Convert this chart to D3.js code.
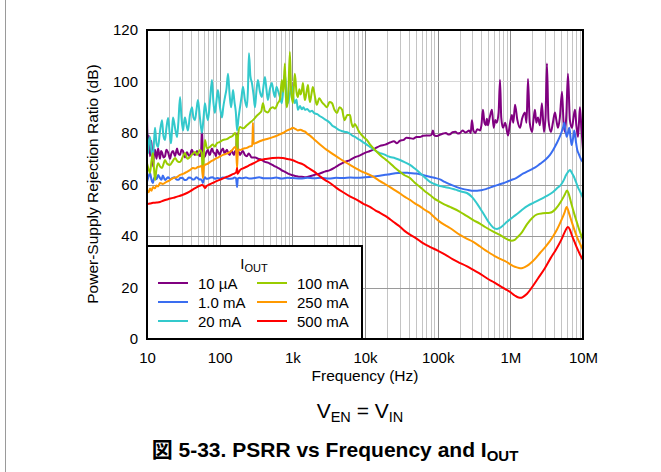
<!DOCTYPE html>
<html>
<head>
<meta charset="utf-8">
<script src="https://cdn.jsdelivr.net/npm/d3@7"></script>
<style>
  html, body { margin: 0; padding: 0; background: #fff; }
  svg { display: block; font-family: "Liberation Sans", Arial, "Noto Sans CJK JP", sans-serif; }
</style>
</head>
<body>
<svg id="chart" width="661" height="472"></svg>
<script>
// Axis ticks
const freqTicks = [10, 100, 1e3, 1e4, 1e5, 1e6, 1e7];
const freqTickLabels = ["10", "100", "1k", "10k", "100k", "1M", "10M"];
const dbTicks = [0, 20, 40, 60, 80, 100, 120];

// Legend entries (in drawing order)
const seriesNames = ["10 \u00b5A", "1.0 mA", "20 mA", "100 mA", "250 mA", "500 mA"];
const seriesColors = ["#800080", "#3a6df0", "#33c9cc", "#99cc00", "#ff9900", "#ff0000"];

// PSRR (dB) vs frequency (Hz) for each output current
const psrr10uA = [
[10,86],[10.3,74],[10.6,79],[11,71],[11.5,77],[12.1,67],[12.5,72],[12.9,73.5],[13.5,70],[14.2,74],[14.7,71.5],[15.1,70],[15.6,73],[16.1,72.5],[16.9,70.5],[17.7,71],[18.5,73.5],[19.5,72.5],[20.7,70],[21.6,72],[22.8,73],[24.3,71],[25.1,72.5],[25.9,74],[27,72],[28.5,71.5],[29.8,73.5],[31.3,73],[33.3,70.5],[34.5,72],[35.5,72.5],[37,71.5],[39,71],[40.5,73],[41.6,73.5],[43.5,72],[45.7,71.5],[48.7,73],[51,72],[53.5,71],[55.5,72.5],[57,82],[58.8,72],[60.5,70.5],[62.7,71],[65.5,72.5],[68.9,73.5],[71,72],[73.4,71.5],[76,73],[78.3,74],[82,72.5],[86,72],[89,71],[91.7,73.5],[96,72.5],[100,71.5],[105,73],[111,74],[115,72.5],[118,72],[122,73],[126,73.5],[132,72],[138,71.5],[143,73],[148,73],[153,72],[158,71.5],[163,73],[168,72.5],[173.6,80],[178,73],[184,72.5],[190,71.5],[200,72.5],[209,73],[222,71.5],[237,71],[250,72],[261,71.5],[275,70.5],[287,70.5],[310,70.5],[336,70],[360,69.8],[381,69.5],[420,68.8],[461,68.5],[500,68],[540,67.5],[580,67],[631,66.5],[680,66],[717,65.5],[780,65],[841,64.5],[910,64],[985,63.7],[1070,63.4],[1155,63.2],[1250,63],[1350,63],[1500,62.8],[1643,63],[1800,63.3],[2000,63.7],[2400,64.3],[2800,65],[3298,65.6],[3900,66.7],[4528,67.8],[5300,68.8],[6214,69.5],[7200,70.5],[8531,71.3],[10000,72.3],[11700,73],[13800,74],[16100,75],[19000,75.5],[22100,76.3],[25000,76.8],[27500,76],[30300,77],[34000,77.3],[37000,78.2],[41600,78],[46000,77.8],[51000,78.4],[57100,78.4],[63000,78.9],[70000,79],[78400,79],[83000,79.5],[86000,81],[89000,79.2],[95000,78.8],[107600,79.3],[120000,79.8],[130000,80],[140000,79.4],[147700,79.5],[160000,80.3],[175000,80.5],[190000,79.8],[203000,80],[220000,81],[240000,80.2],[253000,80.4],[270000,81],[285000,80],[296000,85],[310000,81],[330000,80],[350000,81.5],[382000,81],[400000,83],[420000,89],[440000,84],[460000,83],[475000,85.5],[492000,83],[520000,86],[559000,89],[590000,82],[620000,85],[650000,84],[690000,88],[721000,100.6],[750000,86],[793000,82],[850000,84],[929000,79],[980000,83],[1050000,87],[1100000,84],[1160000,91],[1250000,85],[1360000,82],[1450000,85.5],[1590000,88],[1670000,84],[1750000,101],[1850000,84],[1990000,80.4],[2080000,85],[2180000,89],[2280000,84],[2400000,86],[2550000,83],[2720000,91.6],[2900000,80.4],[3050000,86],[3190000,107],[3350000,85],[3620000,80.4],[3850000,84],[4110000,88],[4300000,85],[4530000,82],[4800000,86],[5140000,96],[5400000,84],[5650000,80.4],[5900000,87],[6210000,103],[6600000,85],[7050000,82],[7400000,86],[7760000,89],[8100000,83],[8530000,78.5],[8800000,84],[9080000,90],[9500000,82],[10000000,73.4]
];

const psrr1mA = [
[10,61],[10.5,63],[11,64.5],[11.5,62],[12.1,60.6],[12.5,62.5],[13,63],[13.6,62],[14.2,63.7],[15.1,62.5],[15.8,61.8],[16.5,63.5],[17.7,61.7],[18.5,62.2],[19.5,62.8],[21,62],[22.5,62.6],[24,62.8],[25.5,61.9],[27,61.8],[29,62.6],[31,62.5],[33,61.7],[35,61.8],[37.5,62.7],[40,62.6],[42.5,61.9],[45,62],[47.5,62.8],[50,62.5],[53,61.9],[55,62],[57,61.5],[58.8,60.6],[60.5,62],[62.7,62.8],[66,62.2],[70,62.3],[75,62.7],[80,62.8],[86,62.2],[92,62.5],[100,62.3],[110,62.7],[120,62.6],[135,62.2],[150,62.3],[160,62.7],[168,62.5],[173.6,59],[178,62.4],[190,62.6],[200,62.4],[230,62.7],[260,62.3],[300,62.5],[350,62.8],[400,62.4],[500,62.4],[600,62.7],[700,62.3],[850,62.6],[1000,62.5],[1300,62.3],[1600,62.6],[2000,62.4],[2500,62.6],[3200,62.3],[4000,62.6],[5000,62.5],[6300,62.7],[8000,62.6],[10000,62.8],[13000,63.1],[16000,63.4],[19000,63.8],[22000,64],[26000,64.4],[30000,64.5],[35000,64.6],[40000,64.5],[48000,64.3],[57000,64],[66000,63.5],[78000,63],[90000,62.6],[107600,62],[125000,61],[150000,60],[183000,59],[220000,58.3],[260000,57.9],[309000,57.6],[350000,57.6],[400000,57.8],[460000,58.2],[525000,58.8],[600000,59.4],[700000,60],[800000,60.5],[891000,61],[1000000,61.6],[1200000,62.5],[1510000,64.3],[1750000,65.2],[2000000,66],[2300000,67],[2560000,68],[3000000,69.5],[3510000,71.5],[3900000,73.5],[4350000,76],[4700000,78],[5080000,80.4],[5300000,82],[5530000,84],[5750000,81],[5960000,78.5],[6200000,80],[6480000,82],[6750000,78],[6980000,75.3],[7300000,78],[7590000,81],[7950000,77],[8340000,73.4],[8700000,72],[9080000,70.7],[9500000,69.5],[10000000,68.7]
];

const psrr20mA = [
[10,82.3],[10.3,72],[10.6,76],[11,78.4],[11.5,73],[12.1,70.7],[12.5,77],[12.9,82],[13.5,76],[14.2,74.6],[15,80],[16.1,85],[16.8,79],[17.7,77.3],[18.5,82],[19.5,85.8],[20.5,80],[21.4,76],[22.1,81],[22.8,86],[24.3,82],[25.9,78.4],[27,84],[28.5,94],[29.8,86],[31.3,81],[32.3,84],[33.3,86],[35,83],[36.6,81],[39,87],[41.6,90],[43.5,86],[45.7,85],[48,89],[50.2,92.8],[53.5,86],[57,80],[60,86],[62.7,91.6],[65.5,88],[68.9,85],[73.4,92],[78.3,100.6],[82,92],[86,87.8],[90,92],[94.7,96.7],[101,90],[107.6,86],[112,90],[118.4,94],[124,97],[130.3,103],[137,95],[143.4,90],[148,93],[152.8,96.7],[160,92],[167,88],[173.6,81],[182,86],[190.6,90],[200,94],[209.3,98],[222,93],[236.9,90],[245,97],[253,111],[265,102],[278,99.4],[292,95],[306,90],[320,96],[336,100.6],[358,96],[381,94],[400,98],[420,101.7],[440,97],[461,92.8],[490,97],[523,99.4],[550,96],[576,94],[605,98],[631,96.7],[675,94],[717,91.6],[750,97],[789,103],[830,96],[868,91.6],[925,95],[985,98],[1030,94],[1083,91.6],[1140,93],[1192,89],[1274,90.5],[1350,89.2],[1420,90],[1500,89],[1600,89.3],[1750,88.3],[1870,88.6],[2000,87.7],[2200,87.3],[2403,86.5],[2600,86],[2800,85.3],[3050,84.7],[3298,83.9],[3600,82.7],[3900,82.2],[4200,81.5],[4528,81],[4900,80.7],[5300,80.4],[5700,80.3],[6214,79.7],[6800,78.9],[7300,78.5],[7900,77.8],[8531,77.3],[9200,76.6],[10000,76],[10800,75.3],[11700,74.6],[12700,74],[13800,73.2],[15000,72.6],[16100,72.2],[17500,71.9],[19000,71.5],[20500,71],[22100,70.7],[26000,70.2],[30300,69.5],[35000,68.7],[41600,67.6],[48000,66.3],[57100,64.5],[66000,62.8],[78400,61],[90000,60.2],[107600,59.4],[125000,59],[147700,58.6],[175000,58],[210000,57.3],[253000,56.7],[300000,55],[350000,52.5],[420000,49],[500000,45.5],[580000,43.3],[655000,42.7],[750000,43.5],[900000,45.5],[1090000,47.4],[1300000,49],[1500000,50.5],[1750000,51.8],[2050000,52.8],[2500000,54],[3000000,55.2],[3870000,57.1],[4500000,58.8],[5000000,60],[5500000,62],[5800000,63.5],[6200000,64.8],[6620000,65.6],[7000000,64.6],[7500000,63],[8000000,61],[8500000,59],[9200000,57],[10000000,54.8]
];

const psrr100mA = [
[10,68.3],[10.5,66],[11,64.5],[11.5,69],[12.1,72.2],[12.5,66],[12.9,61.7],[13.5,66],[14.2,68.3],[15.1,67],[16.1,66.4],[16.9,68],[17.7,69.5],[19,68],[20.7,67.6],[22.5,69],[24.3,70.3],[26.3,69],[28.5,68.7],[30.8,70.5],[33.3,72.2],[36,70],[39,70.7],[42.3,71.8],[45.7,72.6],[49,71.5],[53.5,73.4],[56.5,72.5],[58.8,63],[60.5,71],[62.7,77.3],[67,74],[73.4,74.6],[80,75.5],[86,74.8],[91.7,76],[100,76.5],[111,77.3],[125,77.6],[138.8,78.4],[150,78.8],[162.9,80],[168,79],[173.6,69.5],[179,79],[190.6,82.3],[210,81.8],[236.9,83],[260,84],[287,85],[320,86.5],[358,87.8],[375,88.5],[394,91.6],[420,88.5],[461,88],[500,89.5],[540,90],[580,89.5],[631,91.6],[675,93],[717,100.6],[750,96],[789,107],[815,94],[841,90],[880,95],[925,111.5],[960,97],[1017,91.6],[1050,98],[1083,103],[1140,96],[1192,94],[1250,97],[1300,95],[1350,96.5],[1400,99.4],[1450,95],[1490,92.8],[1570,96],[1643,98.6],[1700,94],[1750,92],[1830,95],[1918,97.9],[2050,94],[2172,91],[2350,93.5],[2551,92],[2750,91],[2995,90],[3250,92],[3515,91.6],[3800,89],[4127,87.8],[4450,90],[4845,89],[5050,86.5],[5260,85],[5700,87],[6214,87],[6500,84],[6818,82.3],[7250,83.5],[7716,82.3],[8100,81],[8531,80],[9500,78.5],[10600,77.3],[11700,75.6],[12900,74.2],[14400,72.8],[16100,71.5],[19000,69.8],[22100,68.3],[26000,66.4],[30300,64.9],[35000,63.6],[41600,62.5],[48000,60.8],[57100,59],[66000,57.5],[78400,55.9],[90000,54.5],[107600,53.2],[125000,52.2],[147700,51.3],[200000,49.5],[250000,47.8],[309000,46.2],[380000,44.8],[450000,43.5],[600000,41.5],[721000,40.4],[870000,39],[1040000,38.2],[1150000,38.5],[1250000,39.5],[1450000,41.5],[1690000,44.5],[2000000,47],[2330000,48.4],[2800000,48.8],[3500000,49],[4200000,50.5],[5000000,53.5],[5600000,56],[6030000,57.7],[6500000,55.5],[7000000,52],[7600000,48.5],[8300000,45],[9100000,41.5],[10000000,38.5]
];

const psrr250mA = [
[10,57.9],[10.5,57],[11,58.4],[11.5,57.6],[12.1,59],[12.9,58.5],[13.5,59.6],[14.2,59.2],[15.1,60.6],[16.5,60.2],[18.5,61],[20.5,61.6],[22.8,62.5],[25.5,62.8],[28.5,63.7],[32,64.2],[35.5,64.9],[39,65.6],[42.9,66.4],[46,66.2],[50.2,66.8],[54,67],[57,67.3],[58.8,62.5],[60.5,67],[62.7,67.6],[68,68],[73.4,68.7],[82,69.5],[91.7,70.3],[100,70.8],[111,71.5],[125,72],[138.8,72.6],[150,73.5],[162.9,74.6],[168,74],[173.6,66.4],[178,73],[184,73.6],[190.6,73.4],[210,73.9],[236.9,74.2],[260,74.8],[280,75],[284,79],[287,84],[290,76],[295,75.8],[306,76],[350,76.7],[394,77.3],[460,77.8],[540,78.4],[640,79.2],[740,80],[850,81],[940,81.5],[1017,82],[1100,81.6],[1192,81],[1300,81.3],[1400,80.8],[1500,80.5],[1620,79.6],[1750,79],[2000,77.5],[2403,75.5],[2800,74],[3298,72.6],[3900,71.2],[4528,70],[5300,68.8],[6214,67.6],[7300,66.5],[8531,65.4],[10000,64.5],[11700,63.7],[13800,62.6],[16100,61.3],[19000,60.1],[22100,59],[26000,57.7],[30300,56.5],[35000,55.3],[41600,54],[48000,52.8],[57100,51.5],[66000,50.2],[78400,48.9],[90000,47.3],[107600,45.5],[125000,44.3],[147700,43.1],[200000,40.5],[250000,39],[309000,37.7],[380000,36],[450000,34.5],[520000,33.4],[600000,32.3],[740000,31],[891000,29.9],[1000000,29],[1100000,28.3],[1230000,27.8],[1360000,27.5],[1480000,27.6],[1600000,28],[1800000,28.9],[2000000,30],[2300000,31.8],[2560000,33.4],[3000000,35.6],[3500000,38],[3900000,40],[4350000,42.3],[4800000,44.8],[5200000,47],[5600000,49.3],[5960000,51.3],[6400000,49],[7000000,45.5],[7600000,42.5],[8300000,39.5],[9100000,37],[10000000,34.6]
];

const psrr500mA = [
[10,52.4],[11,52.6],[12.1,52.9],[13.5,53],[15.1,53.2],[17,53.8],[19.5,54.3],[22.8,54.8],[26,55.3],[30,55.8],[35.5,56.7],[40,57.5],[44,58.3],[48.7,59],[53,59.5],[57,59.8],[60,59.5],[62.7,58.6],[66,59.4],[72,60],[80.8,60.6],[90,61.3],[100,61.8],[112,62.4],[126.2,63],[142,63.6],[155,64.1],[165,64.5],[170,65],[173.6,66.4],[176,64.2],[180,64.5],[190.6,65.6],[210,66.3],[235,66.9],[261,67.6],[300,68.4],[358,69.5],[420,69.9],[480,70.1],[540,70.3],[640,70.4],[740,70.3],[860,69.9],[1017,69.4],[1200,68.5],[1400,67.8],[1650,66.5],[2000,65],[2400,63.2],[2800,61.8],[3300,60.6],[4000,58.8],[5000,57],[6200,55.4],[7760,54],[9400,52.6],[11700,51.3],[14000,49.9],[16100,49],[19000,47.8],[22100,46.5],[26000,45],[30300,43.6],[35000,42],[41600,40.5],[50000,39.2],[62800,37.2],[78000,35.8],[100000,34.3],[130000,32.6],[160000,31],[200000,29.6],[250000,28.3],[300000,27],[400000,25],[500000,23.2],[600000,22],[700000,20.8],[850000,19.4],[1000000,18.2],[1150000,16.9],[1300000,16.1],[1400000,16],[1500000,16.4],[1700000,17.6],[2000000,20.2],[2400000,23.5],[3000000,27.6],[3600000,31.5],[4200000,34.5],[5000000,38.4],[5600000,41.5],[6200000,43.5],[6600000,42.5],[7000000,40.4],[7700000,37.5],[8500000,34.6],[9200000,32.5],[10000000,30.7]
];

const seriesData = [psrr10uA, psrr1mA, psrr20mA, psrr100mA, psrr250mA, psrr500mA];

// ---- layout ----
const plot = { left: 147, right: 583, top: 30, bottom: 339 };
const svg = d3.select("#chart");

const x = d3.scaleLog().domain([10, 1e7]).range([plot.left, plot.right]);
const y = d3.scaleLinear().domain([0, 120]).range([plot.bottom, plot.top]);

// page edge line on the left
svg.append("line")
  .attr("x1", 5.5).attr("x2", 5.5).attr("y1", 0).attr("y2", 472)
  .attr("stroke", "#9a9a9a").attr("stroke-width", 1);

// ---- grid ----
const grid = svg.append("g");
const minorTicks = x.ticks().filter(t => !freqTicks.includes(t));
grid.selectAll("line.minor").data(minorTicks).join("line")
  .attr("class", "minor")
  .attr("x1", d => Math.round(x(d)) + 0.5).attr("x2", d => Math.round(x(d)) + 0.5)
  .attr("y1", plot.top).attr("y2", plot.bottom)
  .attr("stroke", "#c4c4c4").attr("stroke-width", 1);
grid.selectAll("line.major").data(freqTicks.slice(1, -1)).join("line")
  .attr("class", "major")
  .attr("x1", d => Math.round(x(d)) + 0.5).attr("x2", d => Math.round(x(d)) + 0.5)
  .attr("y1", plot.top).attr("y2", plot.bottom)
  .attr("stroke", "#8c8c8c").attr("stroke-width", 1);
grid.selectAll("line.h").data(dbTicks.slice(1, -1)).join("line")
  .attr("class", "h")
  .attr("x1", plot.left).attr("x2", plot.right)
  .attr("y1", d => Math.round(y(d)) + 0.5).attr("y2", d => Math.round(y(d)) + 0.5)
  .attr("stroke", d => d === 100 ? "#d8d8d8" : "#9a9a9a").attr("stroke-width", 1);

// ---- curves ----
svg.append("clipPath").attr("id", "plotClip")
  .append("rect")
  .attr("x", plot.left).attr("y", plot.top)
  .attr("width", plot.right - plot.left).attr("height", plot.bottom - plot.top);

const line = d3.line()
  .x(d => x(d[0]))
  .y(d => y(d[1]))
  .curve(d3.curveMonotoneX);

svg.append("g").attr("clip-path", "url(#plotClip)")
  .selectAll("path").data(seriesData).join("path")
  .attr("d", line)
  .attr("fill", "none")
  .attr("stroke", (d, i) => seriesColors[i])
  .attr("stroke-width", 2)
  .attr("stroke-linejoin", "round");

// ---- legend ----
const legend = svg.append("g");
legend.append("rect")
  .attr("x", plot.left).attr("y", 246)
  .attr("width", 362 - plot.left).attr("height", plot.bottom - 246)
  .attr("fill", "#fff").attr("stroke", "#000").attr("stroke-width", 2);

const legTitle = legend.append("text")
  .attr("x", 254).attr("y", 269)
  .attr("text-anchor", "middle")
  .attr("font-size", 15).attr("fill", "#000");
legTitle.append("tspan").text("I");
legTitle.append("tspan").attr("font-size", 11).attr("dy", 3).text("OUT");

const legItems = legend.selectAll("g.item").data(seriesNames).join("g")
  .attr("class", "item")
  .attr("transform", (d, i) => `translate(${i < 3 ? 158 : 257},${283 + (i % 3) * 19})`);
legItems.append("line")
  .attr("x1", 0).attr("x2", 30).attr("y1", 0).attr("y2", 0)
  .attr("stroke", (d, i) => seriesColors[i]).attr("stroke-width", 2);
legItems.append("text")
  .attr("x", 40).attr("y", 6)
  .attr("font-size", 15).attr("fill", "#000")
  .text(d => d);

// ---- frame ----
svg.append("rect")
  .attr("x", plot.left).attr("y", plot.top)
  .attr("width", plot.right - plot.left).attr("height", plot.bottom - plot.top)
  .attr("fill", "none").attr("stroke", "#000").attr("stroke-width", 2);

// ---- axes ----
const yAxis = svg.append("g")
  .attr("transform", `translate(${plot.left},0)`)
  .call(d3.axisLeft(y).tickValues(dbTicks).tickSize(0).tickPadding(9));
const xAxis = svg.append("g")
  .attr("transform", `translate(0,${plot.bottom})`)
  .call(d3.axisBottom(x).tickValues(freqTicks).tickSize(0).tickPadding(13)
    .tickFormat((d, i) => freqTickLabels[i]));
[yAxis, xAxis].forEach(a => {
  a.select(".domain").remove();
  a.selectAll("text").attr("font-size", 15).attr("fill", "#000")
    .attr("font-family", "'Liberation Sans', Arial, sans-serif");
});

// axis titles
svg.append("text")
  .attr("transform", "translate(98,184) rotate(-90)")
  .attr("text-anchor", "middle")
  .attr("font-size", 15.5).attr("fill", "#000")
  .text("Power-Supply Rejection Ratio (dB)");

svg.append("text")
  .attr("x", 365).attr("y", 381)
  .attr("text-anchor", "middle")
  .attr("font-size", 15.5).attr("fill", "#000")
  .text("Frequency (Hz)");

// condition note
const cond = svg.append("text")
  .attr("x", 360).attr("y", 418)
  .attr("text-anchor", "middle")
  .attr("font-size", 21).attr("fill", "#000");
cond.append("tspan").text("V");
cond.append("tspan").attr("font-size", 14.5).attr("dy", 4).text("EN");
cond.append("tspan").attr("dy", -4).text(" = V");
cond.append("tspan").attr("font-size", 14.5).attr("dy", 4).text("IN");

// figure caption
const cap = svg.append("text")
  .attr("x", 335).attr("y", 457)
  .attr("text-anchor", "middle")
  .attr("font-size", 21).attr("font-weight", "bold").attr("fill", "#000");
cap.append("tspan").text("\u56f3 5-33. PSRR vs Frequency and I");
cap.append("tspan").attr("font-size", 15).attr("dy", 4).text("OUT");
</script>
</body>
</html>
